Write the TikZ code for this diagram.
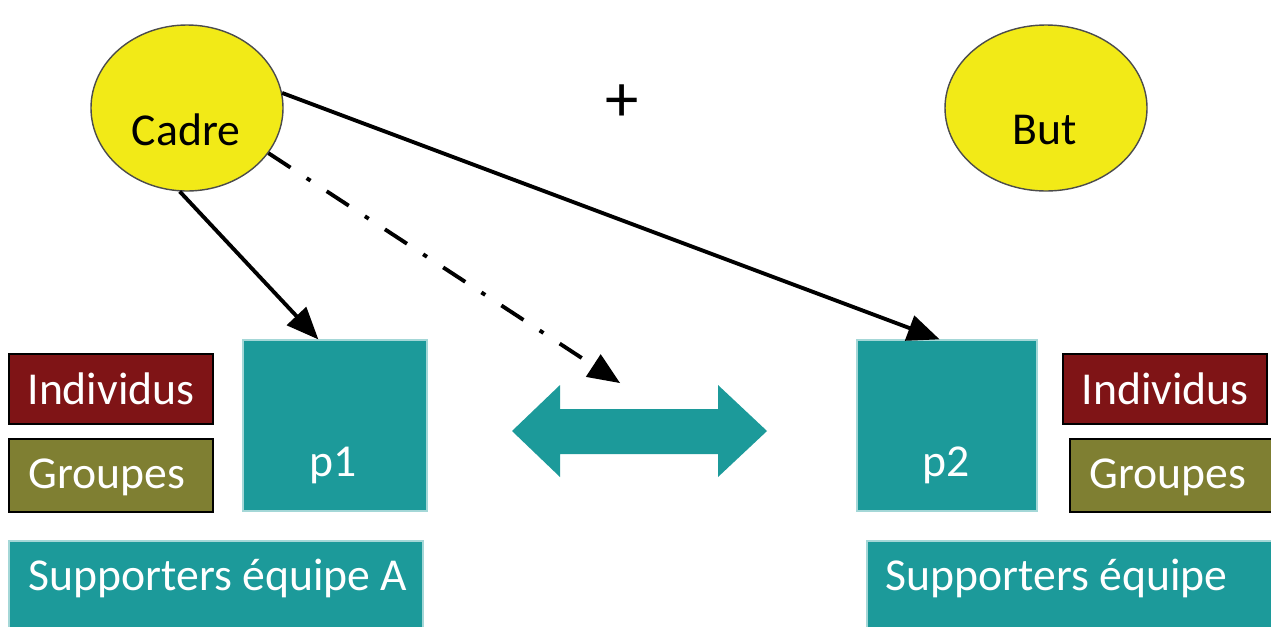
\documentclass[tikz,border=0pt]{standalone}
\usepackage{fontspec}
\setmainfont{Carlito}
\usetikzlibrary{arrows,shapes.geometric}

\definecolor{cteal}{RGB}{28,154,154}
\definecolor{cred}{RGB}{127,20,22}
\definecolor{colive}{RGB}{127,127,50}
\definecolor{cyellow}{RGB}{242,234,23}

\begin{document}
\begin{tikzpicture}[>=triangle 45,
  every node/.style={inner sep=0pt, font=\fontsize{13}{15}\selectfont}]

  \clip (0,0) rectangle (12.71,-6.26);

  \node[ellipse,
        draw = black!70,
        fill = cyellow,
        minimum width = 1.92cm,
        minimum height = 1.66cm
        ] (cadre) at (1.87,-1.08) {};
  \node[] (cadrelab) at (1.86,-1.30) {Cadre};

  \node[ellipse,
        draw = black!70,
        fill = cyellow,
        minimum width = 2.02cm,
        minimum height = 1.66cm
        ] (but) at (10.46,-1.08) {};
  \node[] (butlab) at (10.45,-1.30) {But};

  \node[] (plus) at (6.22,-1.03) {\fontsize{19}{21}\selectfont +};

  \node[rectangle,
        draw = cteal!40!white,
        fill = cteal,
        minimum width = 1.84cm,
        minimum height = 1.71cm
        ] (p1) at (3.35,-4.255) {};
  \node[text = white] (p1lab) at (3.33,-4.65) {p1};

  \node[rectangle,
        draw = cteal!40!white,
        fill = cteal,
        minimum width = 1.80cm,
        minimum height = 1.71cm
        ] (p2) at (9.47,-4.255) {};
  \node[text = white] (p2lab) at (9.46,-4.65) {p2};

  \node[rectangle,
        draw,
        fill = cred,
        minimum width = 2.04cm,
        minimum height = 0.70cm
        ] (indA) at (1.11,-3.89) {};
  \node[text = white] (indAlab) at (indA.center) {Individus};

  \node[rectangle,
        draw,
        fill = colive,
        minimum width = 2.04cm,
        minimum height = 0.73cm
        ] (grpA) at (1.11,-4.755) {};
  \node[text = white] (grpAlab) at (1.07,-4.77) {Groupes};

  \node[rectangle,
        draw,
        fill = cred,
        minimum width = 2.04cm,
        minimum height = 0.70cm
        ] (indB) at (11.65,-3.89) {};
  \node[text = white] (indBlab) at (indB.center) {Individus};

  \node[rectangle,
        draw,
        fill = colive,
        minimum width = 2.02cm,
        minimum height = 0.73cm
        ] (grpB) at (11.71,-4.755) {};
  \node[text = white] (grpBlab) at (11.68,-4.77) {Groupes};

  \node[rectangle,
        draw = cteal!40!white,
        fill = cteal,
        minimum width = 4.14cm,
        minimum height = 0.89cm
        ] (suppA) at (2.16,-5.855) {};
  \node[text = white, anchor = west] (suppAlab) at (0.28,-5.78) {Supporters équipe A};

  \node[rectangle,
        draw = cteal!40!white,
        fill = cteal,
        minimum width = 4.23cm,
        minimum height = 0.89cm
        ] (suppB) at (10.785,-5.855) {};
  \node[text = white, anchor = west] (suppBlab) at (8.85,-5.78) {Supporters équipe};

  % double arrow between the two teams
  \fill[cteal] (5.12,-4.31) -- (5.60,-3.85) -- (5.60,-4.09) -- (7.18,-4.09)
    -- (7.18,-3.85) -- (7.67,-4.31) -- (7.18,-4.77) -- (7.18,-4.54)
    -- (5.60,-4.54) -- (5.60,-4.77) -- cycle;

  \coordinate (dd) at (6.20,-3.83);

  \path[->, line width=1.1pt]
  (cadre.265) edge [] (p1.101)
  (cadre.9) edge [] (p2.95)
  (cadre.331) edge [dash pattern=on 7.5pt off 5.5pt on 1.3pt off 5.5pt] (dd);

\end{tikzpicture}
\end{document}
